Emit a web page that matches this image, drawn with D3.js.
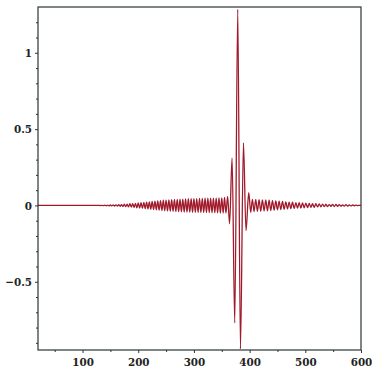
<!DOCTYPE html>
<html><head><meta charset="utf-8">
<script src="https://cdn.jsdelivr.net/npm/d3@7"></script>
<style>html,body{margin:0;padding:0;background:#fff;}svg{display:block;}</style>
</head><body>
<svg id="chart" width="372" height="375"></svg>
<script>
// Tick values
const xTicks = [100, 200, 300, 400, 500, 600];
const xMinorTicks = [50, 150, 250, 350, 450, 550];
const yTicks = [-0.5, 0, 0.5, 1];
const yTickLabels = ["\u22120.5", "0", "0.5", "1"];
const yMinorTicks = [-0.9,-0.8,-0.7,-0.6,-0.4,-0.3,-0.2,-0.1,0.1,0.2,0.3,0.4,0.6,0.7,0.8,0.9,1.1,1.2];

// Signal: extrema of the oscillation (x, y)
const sigX = [20,127.5,
130,132.5,135,137.5,140,142.5,145,147.5,150,152.5,155,157.5,160,162.5,165,167.5,170,172.5,
175,177.5,180,182.5,185,187.5,190,192.5,195,197.5,200,202.5,205,207.5,210,212.5,215,217.5,
220,222.5,225,227.5,230,232.5,235,237.5,240,242.5,245,247.5,250,252.5,255,257.5,260,262.5,
265,267.5,270,272.5,275,277.5,280,282.5,285,287.5,290,292.5,295,297.5,300,302.5,305,307.5,
310,312.5,315,317.5,320,322.5,325,327.5,330,332.5,335,337.5,340,342.5,345,347.5,350,352.5,
355,357.5,360.5,
364,368.5,373.3,378.7,383.5,388.9,393.5,398.4,402,
405,408,411,414,417,420,423,426,429,432,435,438,441,444,447,450,453,456,459,462,465,468,
471,474,477,480,483,486,489,492,495,498,501,504,507,510,513,516,519,522,525,528,531,534,
537,540,543,546,549,552,555,558,561,564,567,570,573,576,579,582,585,588,591,594,597,600];
const sigY = [0,0,
0.001,-0.001,0.001,-0.0015,0.0015,-0.002,0.002,-0.0025,0.003,-0.003,0.0035,-0.004,0.004,-0.0045,0.005,-0.0055,0.006,-0.007,
0.008,-0.008,0.009,-0.01,0.011,-0.011,0.012,-0.013,0.014,-0.015,0.016,-0.017,0.018,-0.019,0.02,-0.021,0.022,-0.023,
0.024,-0.025,0.026,-0.027,0.028,-0.029,0.03,-0.031,0.032,-0.033,0.034,-0.035,0.035,-0.036,0.037,-0.037,0.038,-0.039,
0.039,-0.04,0.04,-0.041,0.041,-0.042,0.042,-0.043,0.043,-0.043,0.044,-0.044,0.044,-0.045,0.045,-0.045,0.045,-0.046,
0.046,-0.046,0.046,-0.046,0.047,-0.047,0.047,-0.047,0.047,-0.048,0.048,-0.048,0.048,-0.049,0.049,-0.05,0.05,-0.05,
0.052,-0.05,0.06,
-0.12,0.31,-0.77,1.285,-0.94,0.41,-0.165,0.083,-0.045,
0.04,-0.04,0.04,-0.039,0.038,-0.038,0.037,-0.036,0.036,-0.035,0.034,-0.033,0.032,-0.031,0.03,-0.029,0.028,-0.027,0.026,-0.025,0.024,-0.023,
0.022,-0.021,0.021,-0.02,0.019,-0.018,0.018,-0.017,0.016,-0.015,0.015,-0.014,0.013,-0.013,0.012,-0.012,0.011,-0.01,0.01,-0.009,0.009,-0.008,
0.008,-0.007,0.006,-0.006,0.007,-0.007,0.007,-0.006,0.006,-0.005,0.004,-0.004,0.005,-0.005,0.004,-0.003,0.003,-0.002,0.002,-0.001,0.001,0];

const svg = d3.select("#chart");
const L = 38, R = 361, T = 7, B = 350;
const x = d3.scaleLinear().domain([20, 600]).range([L, R]);
const y = d3.scaleLinear().domain([-0.947, 1.3]).range([B, T]);

const frameColor = "#2b3535";
const font = "'DejaVu Serif Condensed', 'DejaVu Serif', serif";

// signal line
const data = sigX.map((v, i) => [v, sigY[i]]);
svg.append("path")
  .datum(data)
  .attr("fill", "none")
  .attr("stroke", "#a01a2b")
  .attr("stroke-width", 1.3)
  .attr("stroke-linejoin", "round")
  .attr("d", d3.line().x(d => x(d[0])).y(d => y(d[1])).curve(d3.curveMonotoneX));

// frame
svg.append("rect")
  .attr("x", L).attr("y", T).attr("width", R - L).attr("height", B - T)
  .attr("fill", "none").attr("stroke", frameColor).attr("stroke-width", 1.2);

// x axis
const xAxis = svg.append("g").attr("transform", `translate(0,${B})`);
xAxis.call(d3.axisBottom(x).tickValues(xTicks).tickSize(3).tickSizeOuter(0).tickPadding(5).tickFormat(d3.format("d")));
xAxis.append("g").call(d3.axisBottom(x).tickValues(xMinorTicks).tickSize(2).tickSizeOuter(0).tickFormat(""));
xAxis.selectAll(".domain").remove();

// y axis
const yAxis = svg.append("g").attr("transform", `translate(${L},0)`);
yAxis.call(d3.axisLeft(y).tickValues(yTicks).tickSize(3).tickSizeOuter(0).tickPadding(3)
  .tickFormat((d, i) => yTickLabels[i]));
yAxis.append("g").call(d3.axisLeft(y).tickValues(yMinorTicks).tickSize(2).tickSizeOuter(0).tickFormat(""));
yAxis.selectAll(".domain").remove();

svg.selectAll(".tick line").attr("stroke", frameColor);
svg.selectAll(".tick text")
  .attr("font-family", font)
  .attr("font-size", 11.5)
  .attr("font-weight", "bold")
  .attr("fill", "#222");
</script>
</body></html>
